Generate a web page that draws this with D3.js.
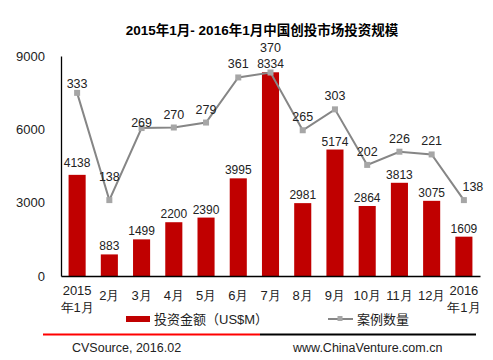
<!DOCTYPE html>
<html><head><meta charset="utf-8">
<script src="https://cdn.jsdelivr.net/npm/d3@7"></script>
<style>
body{margin:0;background:#fff;}
svg{display:block;font-family:"Liberation Sans",Arial,"Noto Sans CJK SC",sans-serif;}
</style></head><body>
<svg id="c" width="493" height="360"></svg>
<script>
const categories = ["2015\n年1月","2月","3月","4月","5月","6月","7月","8月","9月","10月","11月","12月","2016\n年1月"];
const amount = [4138, 883, 1499, 2200, 2390, 3995, 8334, 2981, 5174, 2864, 3813, 3075, 1609];
const cases = [333, 138, 269, 270, 279, 361, 370, 265, 303, 202, 226, 221, 138];
const yTicks = [0, 3000, 6000, 9000];
const title = "2015年1月- 2016年1月中国创投市场投资规模";
const seriesNames = ["投资金额（US$M）", "案例数量"];

const svg = d3.select("#c");
const W = 493, H = 360;
const m = {l:61, r:13, t:56, b:84};
const x = d3.scaleBand().domain(categories).range([m.l, W - m.r]).paddingInner(0.47).paddingOuter(0.235);
const y = d3.scaleLinear().domain([0, 9000]).range([H - m.b, m.t]);
const y2 = d3.scaleLinear().domain([0, 400]).range([H - m.b, m.t]);
const barColor = "#c00000", lineColor = "#868686", markColor = "#a6a6a6";

svg.append("text").attr("x", 262).attr("y", 35).attr("text-anchor","middle")
  .attr("font-weight","bold").attr("font-size","13.5px").attr("fill","#000").text(title);

// y axis
const ya = svg.append("g").attr("transform", `translate(${m.l},0)`)
  .call(d3.axisLeft(y).tickValues(yTicks).tickFormat(d3.format("d")).tickSize(0).tickPadding(16));
ya.select(".domain").attr("stroke","#000").attr("stroke-width",1.3);
ya.selectAll("text").attr("font-size","13px").attr("fill","#222").attr("font-family",null);

// bars
svg.append("g").selectAll("rect").data(amount).join("rect")
  .attr("x",(d,i)=>x(categories[i])).attr("width",x.bandwidth())
  .attr("y",d=>y(d)).attr("height",d=>y(0)-y(d)).attr("fill",barColor);

// x axis
const xa = svg.append("g").attr("transform",`translate(0,${y(0)})`)
  .call(d3.axisBottom(x).tickSize(0).tickFormat(""));
xa.select(".domain").attr("stroke","#000").attr("stroke-width",1.5);
xa.selectAll(".tick").each(function(d){
  const lines = d.split("\n");
  const t = d3.select(this).append("text").attr("fill","#222").attr("font-size","13px").attr("text-anchor","middle");
  if (lines.length === 1) {
    t.append("tspan").attr("x",0).attr("y",24).text(lines[0]);
  } else {
    t.append("tspan").attr("x",0).attr("y",19).text(lines[0]);
    t.append("tspan").attr("x",0).attr("y",36).text(lines[1]);
  }
});

// bar labels
svg.append("g").selectAll("text").data(amount).join("text")
  .attr("x",(d,i)=>x(categories[i])+x.bandwidth()/2)
  .attr("y",(d,i)=>y(d)-(i===0?8:4))
  .attr("text-anchor","middle").attr("font-size","12px").attr("fill","#222").text(d=>d);

// line
const cx = i => x(categories[i]) + x.bandwidth()/2;
const line = d3.line().x((d,i)=>cx(i)).y(d=>y2(d));
svg.append("path").datum(cases).attr("d",line).attr("fill","none")
  .attr("stroke",lineColor).attr("stroke-width",2);
svg.append("g").selectAll("rect").data(cases).join("rect")
  .attr("x",(d,i)=>cx(i)-3).attr("y",d=>y2(d)-3).attr("width",6).attr("height",6).attr("fill",markColor);

// line labels (offset above point; a few adjusted to avoid overlap)
const dyFor = i => ({1:-19, 2:-1, 6:-21, 0:-5}[i] ?? -9);
const dxFor = i => (i === 12 ? 9 : 0);
svg.append("g").selectAll("text").data(cases).join("text")
  .attr("x",(d,i)=>cx(i)+dxFor(i)).attr("y",(d,i)=>y2(d)+dyFor(i))
  .attr("text-anchor","middle").attr("font-size","12.5px").attr("fill","#222").text(d=>d);

// legend
const lg = svg.append("g").attr("font-size","13px").attr("fill","#222");
lg.append("rect").attr("x",126).attr("y",316).attr("width",24).attr("height",6).attr("fill",barColor);
lg.append("text").attr("x",154).attr("y",324).attr("fill","#222").text(seriesNames[0]);
lg.append("line").attr("x1",328).attr("x2",353).attr("y1",319).attr("y2",319).attr("stroke",lineColor).attr("stroke-width",2);
lg.append("rect").attr("x",337.5).attr("y",316).attr("width",5).attr("height",5).attr("fill",markColor);
lg.append("text").attr("x",357).attr("y",324).attr("fill","#222").text(seriesNames[1]);

// footer
svg.append("line").attr("x1",43).attr("x2",260).attr("y1",334.5).attr("y2",334.5).attr("stroke","#ff0000").attr("stroke-width",2);
svg.append("line").attr("x1",260).attr("x2",476).attr("y1",334.5).attr("y2",334.5).attr("stroke","#000").attr("stroke-width",2);
svg.append("text").attr("x",72).attr("y",352).attr("font-size","12.5px").attr("fill","#222").text("CVSource, 2016.02");
svg.append("text").attr("x",293).attr("y",352).attr("font-size","12.5px").attr("fill","#222").text("www.ChinaVenture.com.cn");
</script>
</body></html>
